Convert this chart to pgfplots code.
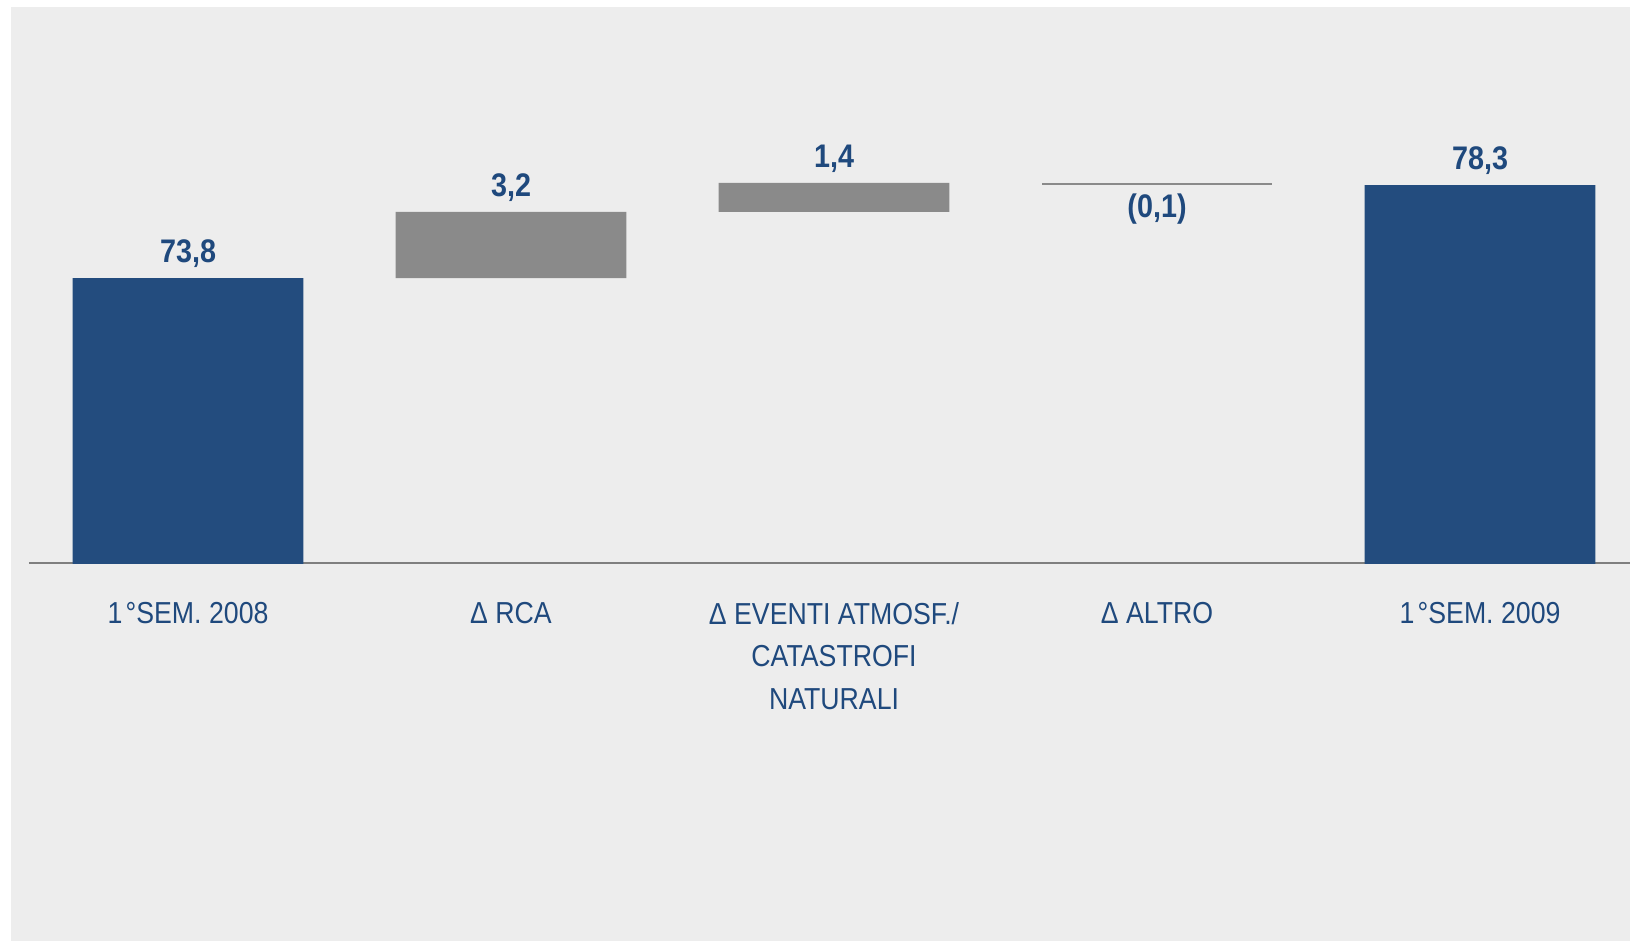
\documentclass[border=0pt]{standalone}
\usepackage{pgfplots}
\pgfplotsset{compat=1.18}
\usepackage{pgfplotstable}
\usepackage{fontspec}
\setmainfont{Liberation Sans}[FakeStretch=0.88]

\definecolor{navy}{HTML}{1F497D}
\definecolor{barblue}{HTML}{234C7E}
\definecolor{bargray}{HTML}{8A8A8A}
\definecolor{bg}{HTML}{EDEDED}
\definecolor{axisgray}{HTML}{7F7F7F}

% waterfall: invisible base + visible steps
\pgfplotstableread{
x y
0 0
1 73.8
2 77.0
3 78.3
4 0
}\basedata
\pgfplotstableread{
x y
0 73.8
1 0
2 0
3 0
4 78.3
}\totaldata
\pgfplotstableread{
x y
0 0
1 3.2
2 1.4
3 0
4 0
}\stepdata
\pgfplotstableread{
x y
0 0
1 0
2 0
3 0.1
4 0
}\negdata
% value labels, placed at the top of each bar
\pgfplotstableread{
x y l
0 73.8 73,8
1 77.0 3,2
2 78.4 1,4
4 78.3 78,3
}\uplabels

\pgfplotsset{
  common/.style={
    at={(0,0)}, anchor=south west,
    scale only axis,
    width=480.3pt, height=166.83pt,
    xmin=-0.4923, xmax=4.4644,
    ymin=60, ymax=86.9,
  },
  vlabel/.style={draw=none, mark=none,
    nodes near coords, point meta=explicit symbolic,
    nodes near coords style={inner sep=0pt,
      font=\bfseries\fontsize{9.8}{12}\selectfont, text=navy}},
}

\begin{document}
\begin{tikzpicture}
\path[use as bounding box] (-8.7pt,-113.88pt) rectangle (480.3pt,169.02pt);
\fill[bg] (-5.25pt,-113.28pt) rectangle (480.3pt,166.83pt);
\begin{axis}[
  common,
  ybar stacked, bar width=69.2pt,
  axis x line*=bottom, axis y line=none,
  x axis line style={axisgray, line width=0.6pt, -},
  xtick={0,...,4},
  xticklabels={1\kern1pt°SEM. 2008, Δ RCA, {Δ EVENTI ATMOSF./\\CATASTROFI\\NATURALI}, Δ ALTRO, 1\kern1pt°SEM. 2009},
  major tick length=0pt,
  xticklabel style={align=center, font=\fontsize{9.1}{12.7}\selectfont, text=navy,
    anchor=north, inner sep=0pt, yshift=-11.5pt},
  ytick=\empty,
]
\addplot[draw=none, fill=none] table[x=x, y=y] {\basedata};
\addplot[draw=none, fill=barblue] table[x=x, y=y] {\totaldata};
\addplot[draw=none, fill=bargray] table[x=x, y=y] {\stepdata};
\addplot[draw=none, fill=bargray] table[x=x, y=y] {\negdata};
\end{axis}
\begin{axis}[common, hide axis, clip=false]
\addplot[vlabel, nodes near coords style={anchor=base, yshift=4.6pt}]
  table[x=x, y=y, meta=l] {\uplabels};
\addplot[vlabel, nodes near coords style={anchor=north, yshift=-2.3pt}]
  table[x=x, y=y, meta=l] {
x y l
3 78.3 (0,1)
};
\end{axis}
\end{tikzpicture}
\end{document}
